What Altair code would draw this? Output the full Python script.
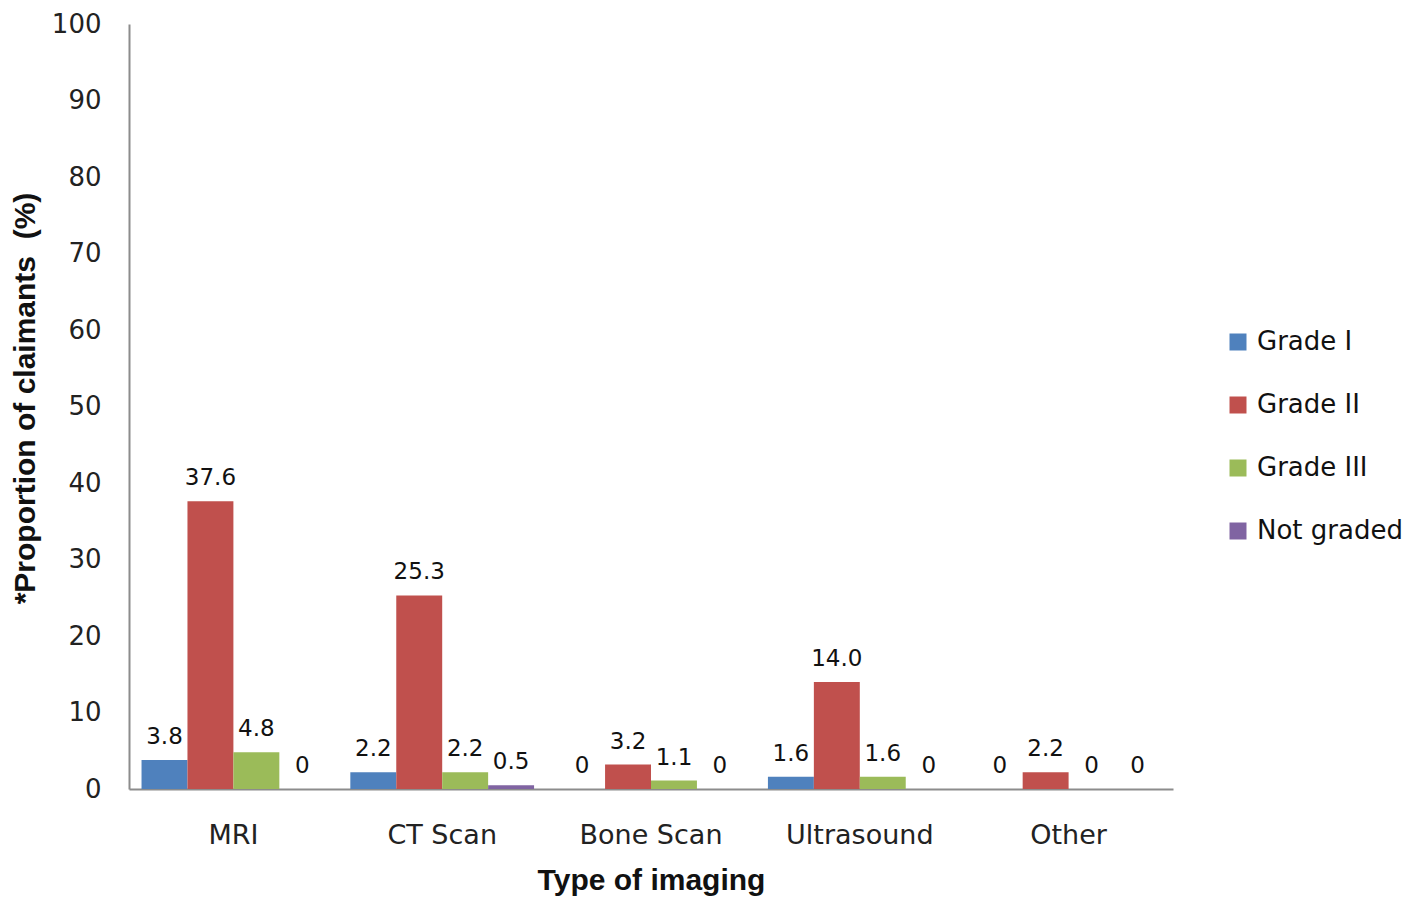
import altair as alt
import pandas as pd

categories = ["MRI", "CT Scan", "Bone Scan", "Ultrasound", "Other"]
series_names = ["Grade I", "Grade II", "Grade III", "Not graded"]
grade_i = [3.8, 2.2, 0, 1.6, 0]
grade_ii = [37.6, 25.3, 3.2, 14.0, 2.2]
grade_iii = [4.8, 2.2, 1.1, 1.6, 0]
not_graded = [0, 0.5, 0, 0, 0]
colors = ["#4F81BD", "#C0504D", "#9BBB59", "#8064A2"]
y_ticks = list(range(0, 101, 10))

rows = []
for name, vals in zip(series_names, [grade_i, grade_ii, grade_iii, not_graded]):
    for cat, v in zip(categories, vals):
        rows.append({"category": cat, "series": name, "value": v,
                     "label": "0" if v == 0 else f"{v:.1f}"})
df = pd.DataFrame(rows)

W, H = 1044, 765

x_enc = alt.X("category:N", sort=categories,
              scale=alt.Scale(paddingInner=0.12, paddingOuter=0.06),
              axis=alt.Axis(title="Type of imaging", labelAngle=0, ticks=False,
                            labelPadding=33, labelFontSize=27, labelFont="DejaVu Sans",
                            labelColor="#222222", labelBaseline="top",
                            domainColor="#8c8c8c", domainWidth=2,
                            titleFont="Liberation Sans", titleFontWeight="bold",
                            titleFontSize=30, titleColor="#111111",
                            titleX=W / 2, titleY=100, titleBaseline="alphabetic",
                            titleAlign="center"))
xo_enc = alt.XOffset("series:N", sort=series_names,
                     scale=alt.Scale(paddingInner=0, paddingOuter=0))
y_enc = alt.Y("value:Q", scale=alt.Scale(domain=[0, 100]),
              axis=alt.Axis(title="*Proportion of claimants\u00a0 (%)", values=y_ticks,
                            grid=False, ticks=False, labelPadding=28,
                            labelFontSize=26, labelFont="DejaVu Sans", labelColor="#222222",
                            domainColor="#8c8c8c", domainWidth=2,
                            titleFont="Liberation Sans", titleFontWeight="bold",
                            titleFontSize=30, titleColor="#111111",
                            titleX=-95, titleY=374, titleBaseline="alphabetic",
                            titleAngle=270, titleAlign="center"))

bars = alt.Chart(df).mark_bar().encode(
    x=x_enc, xOffset=xo_enc, y=y_enc,
    color=alt.Color("series:N", sort=series_names,
                    scale=alt.Scale(domain=series_names, range=colors),
                    legend=alt.Legend(title=None, orient="none", legendX=1096, legendY=305,
                                      symbolType="square", symbolSize=289,
                                      symbolStrokeWidth=0, labelFontSize=26,
                                      labelFont="DejaVu Sans", labelColor="#111111",
                                      labelOffset=6, rowPadding=37, padding=0))
)

texts = alt.Chart(df).mark_text(baseline="bottom", dy=-11, fontSize=23,
                                font="DejaVu Sans", color="#111111").encode(
    x=alt.X("category:N", sort=categories), xOffset=alt.XOffset("series:N", sort=series_names),
    y=alt.Y("value:Q"), text="label:N"
)

chart = alt.layer(bars, texts).properties(
    width=W, height=H,
    autosize=alt.AutoSizeParams(type="none"),
    padding={"left": 121, "top": 16, "right": 237, "bottom": 109},
).configure_view(stroke=None)

chart.save("out.html", embed_options={"renderer": "svg", "actions": False})
